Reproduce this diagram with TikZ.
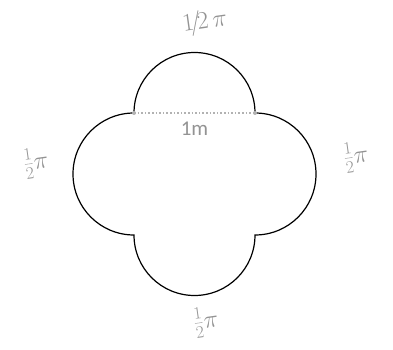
\documentclass[tikz,border=0pt]{standalone}
\usepackage{fontspec}
\newfontfamily\labelfont{Carlito}
\begin{document}
\begin{tikzpicture}[x=1pt, y=-1pt,
  outline/.style={draw=black, line width=1.2pt},
  chord/.style={draw=gray!60, dotted, line width=1.6pt},
  enddot/.style={circle, fill=gray!60, inner sep=0pt, minimum size=4pt},
  pen/.style={text=gray!85, font=\fontsize{25}{25}\selectfont, rotate=8, inner sep=1pt}
]
  \useasboundingbox (0,0) rectangle (393,350);

  % corners of the square
  \coordinate (tl) at (134,113);
  \coordinate (tr) at (255,113);
  \coordinate (br) at (255,235);
  \coordinate (bl) at (134,235);

  % four half circles
  \draw[outline] (tl) arc[start angle=180, end angle=360, radius=60.5]
                      arc[start angle=-90, end angle=90, radius=61]
                      arc[start angle=0, end angle=180, radius=60.5]
                      arc[start angle=90, end angle=270, radius=61];

  % diameter
  \draw[chord] (tl) -- (tr);
  \node[enddot] (dl) at (tl) {};
  \node[enddot] (dr) at (tr) {};
  \node[text=gray!85, font=\labelfont\fontsize{21}{21}\selectfont] (len) at (194.5,129) {1m};

  % arc lengths
  \node[pen] (top) at (205,22) {$1\!/\!2\,\pi$};
  \node[pen] (left) at (36,163) {$\textstyle\frac{1}{2}\pi$};
  \node[pen] (right) at (356,157) {$\textstyle\frac{1}{2}\pi$};
  \node[pen] (bottom) at (206,322) {$\textstyle\frac{1}{2}\pi$};
\end{tikzpicture}
\end{document}
